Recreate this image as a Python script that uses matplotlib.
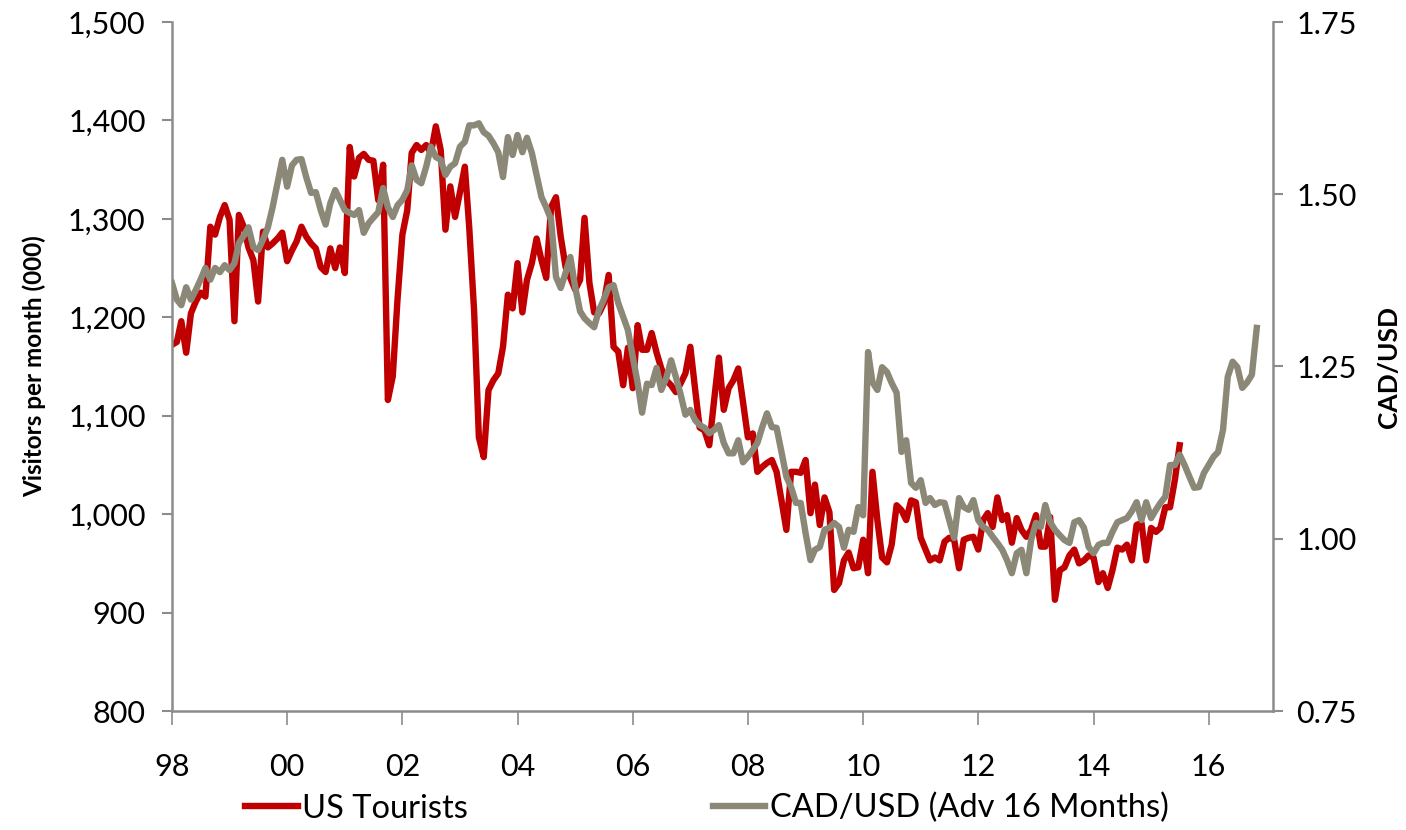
import matplotlib.pyplot as plt
import matplotlib.dates as mdates
import pandas as pd

plt.rcParams['font.family'] = ['Lato', 'DejaVu Sans']

# US tourist visitors per month (000), Jan 1998 - Jul 2015
us_tourists = [
    1172, 1175, 1196, 1164, 1204, 1216, 1225, 1221, 1292, 1284, 1302, 1314,  # 1998
    1299, 1196, 1304, 1292, 1271, 1258, 1216, 1287, 1271, 1275, 1280, 1286,  # 1999
    1257, 1268, 1277, 1292, 1282, 1275, 1270, 1251, 1246, 1270, 1250, 1271,  # 2000
    1245, 1373, 1343, 1362, 1366, 1360, 1359, 1319, 1355, 1116, 1140, 1218,  # 2001
    1284, 1309, 1367, 1375, 1370, 1375, 1367, 1394, 1370, 1289, 1333, 1302,  # 2002
    1327, 1353, 1291, 1206, 1078, 1058, 1126, 1136, 1143, 1170, 1223, 1209,  # 2003
    1255, 1205, 1238, 1255, 1280, 1258, 1240, 1312, 1322, 1282, 1251, 1240,  # 2004
    1228, 1238, 1301, 1235, 1205, 1204, 1214, 1243, 1170, 1165, 1131, 1169,  # 2005
    1128, 1192, 1167, 1167, 1184, 1164, 1148, 1136, 1131, 1124, 1133, 1143,  # 2006
    1170, 1126, 1088, 1085, 1070, 1116, 1159, 1106, 1128, 1136, 1148, 1114,  # 2007
    1078, 1082, 1043, 1048, 1052, 1055, 1043, 1014, 984, 1043, 1043, 1042,   # 2008
    1055, 1001, 1030, 989, 1017, 1002, 923, 930, 953, 961, 945, 946,         # 2009
    974, 940, 1043, 994, 956, 951, 969, 1009, 1004, 994, 1014, 1012,         # 2010
    976, 964, 953, 956, 953, 972, 976, 974, 945, 974, 976, 977,              # 2011
    964, 994, 1001, 987, 1017, 994, 999, 971, 996, 984, 977, 984,            # 2012
    999, 967, 967, 997, 913, 943, 946, 958, 964, 950, 953, 958,              # 2013
    956, 931, 940, 925, 943, 966, 964, 969, 953, 989, 991, 953,              # 2014
    986, 982, 986, 1007, 1007, 1035, 1070,                                   # 2015
]

# CAD/USD advanced 16 months, Jan 1998 - Nov 2016
cad_usd = [
    1.371, 1.347, 1.339, 1.365, 1.347, 1.361, 1.376, 1.393, 1.376, 1.393, 1.387, 1.397,
    1.390, 1.400, 1.429, 1.440, 1.452, 1.423, 1.419, 1.434, 1.452, 1.481, 1.516, 1.550,
    1.511, 1.542, 1.550, 1.551, 1.525, 1.502, 1.503, 1.477, 1.456, 1.487, 1.506, 1.492,
    1.477, 1.473, 1.470, 1.477, 1.444, 1.458, 1.466, 1.474, 1.509, 1.481, 1.467, 1.484,
    1.492, 1.506, 1.542, 1.521, 1.516, 1.540, 1.569, 1.554, 1.550, 1.528, 1.540, 1.545,
    1.569, 1.576, 1.600, 1.600, 1.603, 1.590, 1.585, 1.574, 1.561, 1.525, 1.583, 1.557,
    1.586, 1.561, 1.582, 1.560, 1.528, 1.496, 1.481, 1.463, 1.380, 1.364, 1.386, 1.409,
    1.365, 1.330, 1.320, 1.313, 1.307, 1.332, 1.347, 1.365, 1.368, 1.342, 1.322, 1.303,
    1.264, 1.226, 1.183, 1.225, 1.223, 1.248, 1.216, 1.233, 1.259, 1.235, 1.209, 1.180,
    1.187, 1.172, 1.165, 1.161, 1.153, 1.158, 1.165, 1.139, 1.124, 1.124, 1.143, 1.111,
    1.119, 1.129, 1.139, 1.162, 1.182, 1.162, 1.161, 1.126, 1.090, 1.075, 1.052, 1.052,
    1.008, 0.969, 0.984, 0.988, 1.013, 1.016, 1.023, 1.017, 0.987, 1.013, 1.010, 1.046,
    1.034, 1.271, 1.227, 1.216, 1.249, 1.242, 1.226, 1.212, 1.126, 1.143, 1.081, 1.074,
    1.085, 1.052, 1.059, 1.049, 1.053, 1.052, 1.027, 1.001, 1.059, 1.046, 1.042, 1.056,
    1.027, 1.017, 1.013, 1.003, 0.994, 0.984, 0.969, 0.950, 0.979, 0.984, 0.950, 0.998,
    1.023, 1.017, 1.049, 1.024, 1.013, 1.005, 0.998, 0.994, 1.024, 1.027, 1.016, 0.988,
    0.979, 0.991, 0.994, 0.994, 1.010, 1.024, 1.027, 1.030, 1.040, 1.053, 1.027, 1.053,
    1.030, 1.042, 1.052, 1.061, 1.107, 1.107, 1.122, 1.107, 1.090, 1.074, 1.075, 1.095,
    1.107, 1.119, 1.126, 1.158, 1.235, 1.257, 1.249, 1.219, 1.227, 1.238, 1.306,
]

tick_years = [1998, 2000, 2002, 2004, 2006, 2008, 2010, 2012, 2014, 2016]
left_ticks = [800, 900, 1000, 1100, 1200, 1300, 1400, 1500]
right_ticks = [0.75, 1.00, 1.25, 1.50, 1.75]

dates_us = pd.date_range('1998-01-01', periods=len(us_tourists), freq='MS')
dates_cad = pd.date_range('1998-01-01', periods=len(cad_usd), freq='MS')

red = '#C00000'
grey = '#8B8877'
axis_grey = '#8C8C8C'

fig = plt.figure(figsize=(14.06, 8.30), dpi=100)
ax = fig.add_axes([172 / 1406, 1 - 711 / 830, (1273 - 172) / 1406, (711 - 22) / 830])
ax2 = ax.twinx()

l1, = ax.plot(dates_us, us_tourists, color=red, lw=4.6, solid_joinstyle='round')
l2, = ax2.plot(dates_cad, cad_usd, color=grey, lw=4.6, solid_joinstyle='round')

ax.set_xlim(pd.Timestamp('1998-01-01'), pd.Timestamp('2017-02-12'))
ax.set_ylim(800, 1500)
ax2.set_ylim(0.75, 1.75)

ax.set_xticks([pd.Timestamp(f'{y}-01-01') for y in tick_years])
ax.xaxis.set_major_formatter(mdates.DateFormatter('%y'))
ax.set_yticks(left_ticks)
ax.set_yticklabels([f'{v:,}' for v in left_ticks])
ax2.set_yticks(right_ticks)
ax2.set_yticklabels([f'{v:.2f}' for v in right_ticks])

for a in (ax, ax2):
    a.spines['top'].set_visible(False)
    for s in a.spines.values():
        s.set_color(axis_grey)
        s.set_linewidth(1.8)
ax.spines['right'].set_visible(False)
ax2.spines['left'].set_visible(False)
ax2.spines['bottom'].set_visible(False)

ax.tick_params(axis='y', length=7, width=1.5, color=axis_grey, labelsize=22, pad=12)
ax.tick_params(axis='x', length=10, width=1.2, color=axis_grey, labelsize=22, pad=20)
ax2.tick_params(axis='y', length=7, width=1.5, color=axis_grey, labelsize=22, pad=10)

ax.set_ylabel('Visitors per month (000)', fontsize=17.5, fontweight='bold', labelpad=16)
ax2.set_ylabel('CAD/USD', fontsize=19, fontweight='bold', labelpad=14)

fig.legend([l1, l2], ['US Tourists', 'CAD/USD (Adv 16 Months)'], loc='center',
           bbox_to_anchor=(0.503, 0.026), ncol=2, frameon=False, fontsize=23.5,
           handlelength=1.6, handletextpad=0.15, columnspacing=7.5)

fig.savefig('out.png', dpi=100)
